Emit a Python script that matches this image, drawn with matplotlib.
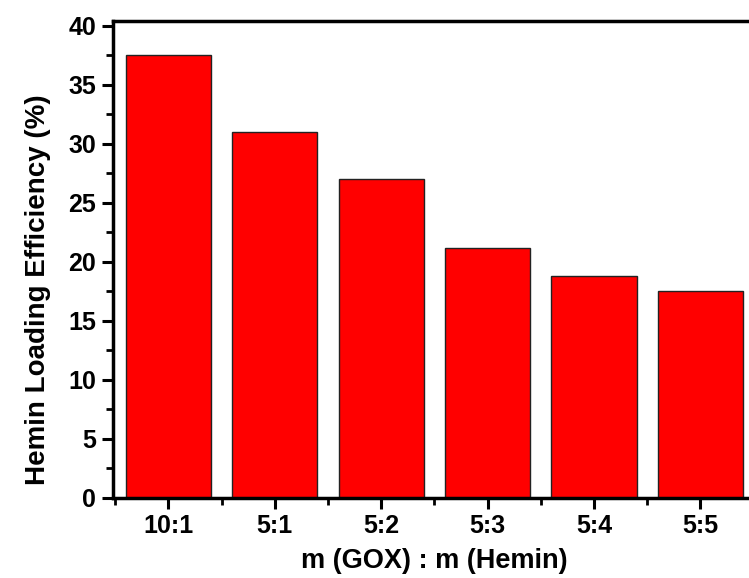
import numpy as np
import matplotlib
matplotlib.use("Agg")
import matplotlib.pyplot as plt
from matplotlib.ticker import MultipleLocator, FixedLocator

ratios = ["10:1", "5:1", "5:2", "5:3", "5:4", "5:5"]
efficiency = [37.5, 31.0, 27.0, 21.2, 18.8, 17.5]

plt.rcParams['font.family'] = ['Liberation Sans', 'DejaVu Sans']
plt.rcParams['font.weight'] = 'bold'

fig = plt.figure(figsize=(7.49, 5.78), dpi=100)
ax = fig.add_axes([0.1509, 0.1388, 0.858, 0.825])

x = np.arange(len(ratios))
ax.bar(x, efficiency, 0.8, color='#ff0000', edgecolor='#222222', linewidth=1.0)

ax.set_xlim(-0.52, 5.52)
ax.set_ylim(0, 40.4)
ax.set_xticks(x)
ax.set_xticklabels(ratios)
ax.xaxis.set_minor_locator(FixedLocator(np.arange(-0.5, 6, 1.0)))
ax.yaxis.set_major_locator(MultipleLocator(5))
ax.yaxis.set_minor_locator(MultipleLocator(2.5))

for s in ax.spines.values():
    s.set_linewidth(2.5)
ax.tick_params(which='major', direction='out', length=8, width=2.2, labelsize=18, pad=4)
ax.tick_params(which='minor', direction='out', length=5, width=2.0)

ax.set_xlabel('m (GOX) : m (Hemin)', fontsize=19.5, fontweight='bold', labelpad=7)
ax.set_ylabel('Hemin Loading Efficiency (%)', fontsize=20, fontweight='bold')
# label sits a bit below the axis centre in the original
ax.yaxis.set_label_coords(-0.097, 0.436)

fig.savefig('out.png', dpi=100)
